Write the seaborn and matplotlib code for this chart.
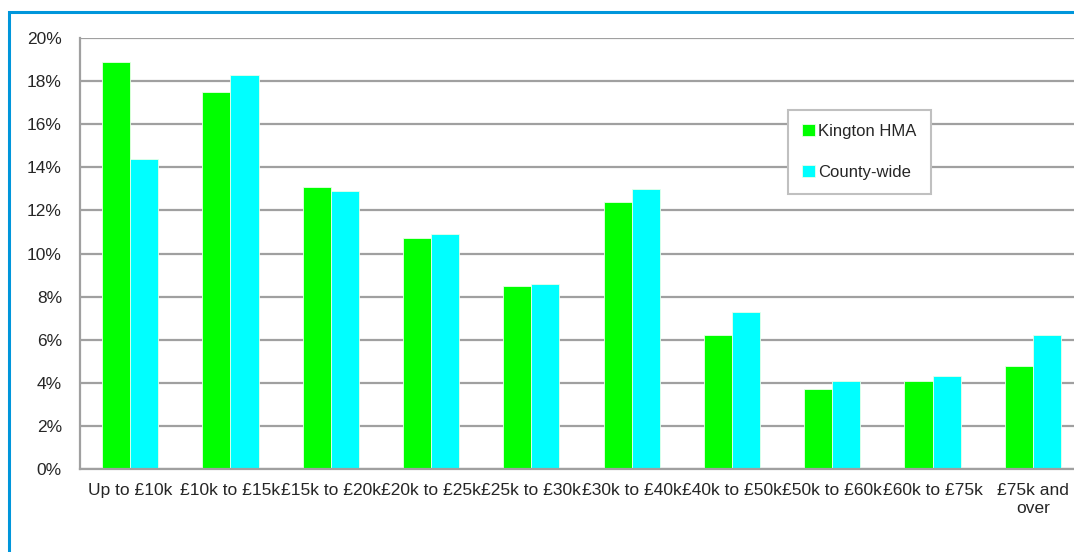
"""
Household income bands: Kington HMA vs County-wide (grouped bar chart).
"""
import numpy as np
import pandas as pd
import matplotlib
matplotlib.use("Agg")
import matplotlib.pyplot as plt
from matplotlib.patches import Rectangle
from matplotlib.ticker import FixedLocator
import seaborn as sns

# ─── Data ────────────────────────────────────────────────────────────────
bands = [
    "Up to £10k", "£10k to £15k", "£15k to £20k", "£20k to £25k",
    "£25k to £30k", "£30k to £40k", "£40k to £50k", "£50k to £60k",
    "£60k to £75k", "£75k and\nover",
]
kington = [18.9, 17.5, 13.1, 10.7, 8.5, 12.4, 6.2, 3.7, 4.1, 4.8]
county = [14.4, 18.3, 12.9, 10.9, 8.6, 13.0, 7.3, 4.1, 4.3, 6.2]
series_names = ["Kington HMA", "County-wide"]
colors = ["#00FF00", "#00FFFF"]
y_ticks = [0, 2, 4, 6, 8, 10, 12, 14, 16, 18, 20]

df = pd.DataFrame({
    "band": bands * 2,
    "value": kington + county,
    "area": [series_names[0]] * len(bands) + [series_names[1]] * len(bands),
})

# ─── Style ───────────────────────────────────────────────────────────────
sns.set_style("white")
plt.rcParams["font.family"] = ["Liberation Sans", "DejaVu Sans"]
grid_col = "#A0A0A0"

W, H = 1074, 552
fig = plt.figure(figsize=(W / 100, H / 100), dpi=100)
ax = fig.add_axes([80 / W, (H - 469) / H, 1003 / W, 431 / H])

sns.barplot(
    data=df, x="band", y="value", hue="area", order=bands,
    hue_order=series_names, palette=colors, width=0.56,
    saturation=1, ax=ax, legend=True, edgecolor="#E8FFE8", linewidth=0.6,
)

ax.set_xlim(-0.5, len(bands) - 0.5)
ax.set_ylim(0, 20)
ax.set_yticks(y_ticks)
ax.set_yticklabels([f"{t}%" for t in y_ticks], fontsize=12.5)
ax.set_xticks(range(len(bands)))
ax.set_xticklabels(bands, fontsize=12.5, linespacing=1.25)
ax.xaxis.set_minor_locator(FixedLocator(np.arange(0.5, len(bands) - 1, 1.0)))
ax.tick_params(axis="x", which="major", length=0, pad=10)
ax.tick_params(axis="x", which="minor", length=6, width=1.4, color=grid_col)
ax.tick_params(axis="y", length=6, width=1.4, color=grid_col, pad=7)
ax.set_xlabel("")
ax.set_ylabel("")

ax.grid(axis="y", color=grid_col, linewidth=1.6)
ax.set_axisbelow(True)
for side in ["top", "right"]:
    ax.spines[side].set_visible(False)
for side in ["left", "bottom"]:
    ax.spines[side].set_color(grid_col)
    ax.spines[side].set_linewidth(1.6)

# legend box
leg = ax.legend(
    loc="upper left", bbox_to_anchor=(788 / W, 1 - 110 / H),
    bbox_transform=fig.transFigure, frameon=True, fancybox=False,
    fontsize=12, handlelength=0.75, handleheight=0.75, handletextpad=0.2,
    labelspacing=1.55, borderpad=0.85, borderaxespad=0,
)
leg.get_frame().set_edgecolor("#C0C0C0")
leg.get_frame().set_linewidth(1.5)
leg.get_frame().set_facecolor("white")
leg.get_frame().set_alpha(1)

# blue outer frame (cut off on right and bottom)
fig.patches.append(Rectangle(
    (8.5 / W, -0.5), 2, (H - 11.5) / H + 0.5, transform=fig.transFigure,
    fill=False, edgecolor="#0096DB", linewidth=2.2, zorder=0,
))

plt.savefig("out.png", dpi=100)
